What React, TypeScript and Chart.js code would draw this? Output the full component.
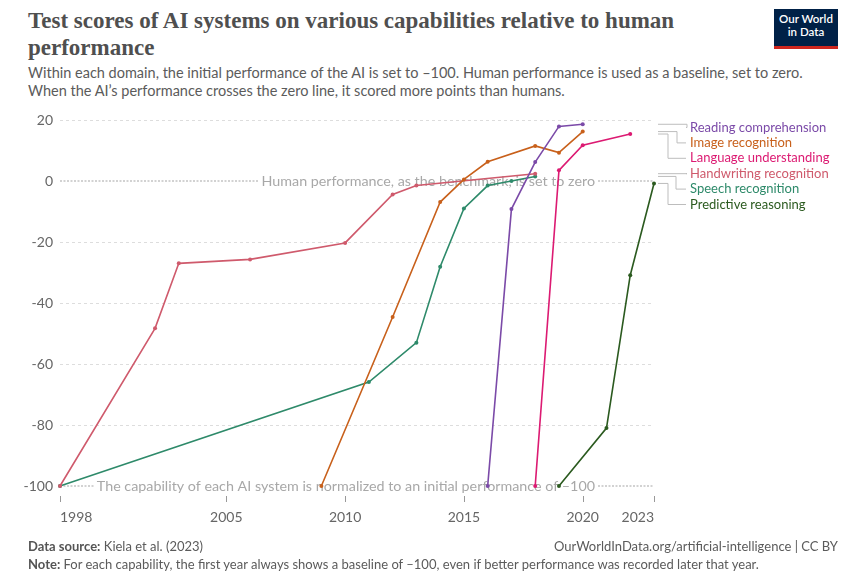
import React, { useEffect, useRef } from 'react';
import Chart from 'chart.js/auto';

// years + normalized scores per capability
const readingYears = [2016, 2017, 2018, 2019, 2020];
const readingScores = [-100, -9.2, 6.2, 17.9, 18.6];

const imageYears = [2009, 2012, 2014, 2015, 2016, 2018, 2019, 2020];
const imageScores = [-100, -44.6, -6.9, 0.5, 6.3, 11.5, 9.3, 16.2];

const languageYears = [2018, 2019, 2020, 2022];
const languageScores = [-100, 3.5, 11.7, 15.4];

const handwritingYears = [1998, 2002, 2003, 2006, 2010, 2012, 2013, 2018];
const handwritingScores = [-100, -48.3, -27.0, -25.7, -20.3, -4.4, -1.5, 2.4];

const speechYears = [1998, 2011, 2013, 2014, 2015, 2016, 2017, 2018];
const speechScores = [-100, -65.9, -53, -28.1, -9.0, -1.5, 0, 1.5];

const predictiveYears = [2019, 2021, 2022, 2023];
const predictiveScores = [-100, -81, -30.9, -0.8];

const seriesNames = [
  'Reading comprehension',
  'Image recognition',
  'Language understanding',
  'Handwriting recognition',
  'Speech recognition',
  'Predictive reasoning',
];
const seriesColors = ['#7b4aa8', '#c8601b', '#dc1a72', '#cf5a6c', '#2e8a6a', '#2b5a1f'];

const xTicks = [1998, 2005, 2010, 2015, 2020, 2023];

const zeroNote = 'Human performance, as the benchmark, is set to zero';
const baseNote = 'The capability of each AI system is normalized to an initial performance of \u2013100';

const toPoints = (xs: number[], ys: number[]) => xs.map((x, i) => ({ x, y: ys[i] }));

// legend with elbow connectors on the right
const legendPlugin = {
  id: 'owidLegend',
  afterDatasetsDraw(chart: any) {
    const { ctx, chartArea } = chart;
    const elbows = [29, 19, 10, 29, 18, 10];
    ctx.save();
    ctx.font = '13px Lato';
    ctx.textBaseline = 'middle';
    chart.data.datasets.forEach((ds: any, i: number) => {
      const meta = chart.getDatasetMeta(i);
      const last = meta.data[meta.data.length - 1];
      const x0 = chartArea.right + 4;
      const labelY = chartArea.top + 7.5 + i * 15.4;
      const ex = x0 + elbows[i];
      ctx.strokeStyle = '#bdbdbd';
      ctx.lineWidth = 1;
      ctx.beginPath();
      ctx.moveTo(x0, last.y);
      ctx.lineTo(ex, last.y);
      ctx.lineTo(ex, labelY);
      ctx.lineTo(chartArea.right + 32, labelY);
      ctx.stroke();
      ctx.fillStyle = ds.borderColor;
      ctx.fillText(ds.label, chartArea.right + 36, labelY);
    });
    ctx.restore();
  },
};

// notes on the 0 and -100 lines, plus x tick marks
const notesPlugin = {
  id: 'owidNotes',
  beforeDatasetsDraw(chart: any) {
    const { ctx, chartArea, scales } = chart;
    ctx.save();
    ctx.font = '14.3px Lato';
    ctx.textBaseline = 'middle';
    const textRight = chartArea.right - 59;
    [
      { v: 0, t: zeroNote },
      { v: -100, t: baseNote },
    ].forEach(({ v, t }) => {
      const y = scales.y.getPixelForValue(v);
      const w = ctx.measureText(t).width;
      ctx.strokeStyle = '#c4c4c4';
      ctx.lineWidth = 1.5;
      ctx.setLineDash([2, 1.5]);
      ctx.beginPath();
      ctx.moveTo(chartArea.left, y);
      ctx.lineTo(textRight - w - 3, y);
      ctx.moveTo(textRight + 3, y);
      ctx.lineTo(chartArea.right, y);
      ctx.stroke();
      ctx.setLineDash([]);
      ctx.fillStyle = '#a8a8a8';
      ctx.textAlign = 'right';
      ctx.fillText(t, textRight, y + 0.5);
    });
    ctx.strokeStyle = '#999';
    ctx.lineWidth = 1;
    xTicks.forEach(v => {
      const x = Math.round(scales.x.getPixelForValue(v)) + 0.5;
      ctx.beginPath();
      ctx.moveTo(x, chartArea.bottom + 10);
      ctx.lineTo(x, chartArea.bottom + 16);
      ctx.stroke();
    });
    ctx.restore();
  },
};

const ScoresChart: React.FC = () => {
  const canvasRef = useRef<HTMLCanvasElement>(null);
  const chartRef = useRef<any>(null);

  useEffect(() => {
    if (chartRef.current) chartRef.current.destroy();
    Chart.defaults.font.family = "Lato, 'Noto Sans', sans-serif";

    const allPoints = [
      toPoints(readingYears, readingScores),
      toPoints(imageYears, imageScores),
      toPoints(languageYears, languageScores),
      toPoints(handwritingYears, handwritingScores),
      toPoints(speechYears, speechScores),
      toPoints(predictiveYears, predictiveScores),
    ];

    if (canvasRef.current) {
      chartRef.current = new Chart(canvasRef.current, {
        type: 'line',
        data: {
          datasets: allPoints.map((pts, i) => ({
            label: seriesNames[i],
            data: pts,
            borderColor: seriesColors[i],
            backgroundColor: seriesColors[i],
            borderWidth: 1.6,
            pointRadius: 2,
            pointHoverRadius: 2,
            pointBorderWidth: 0,
            tension: 0,
            clip: false as any,
          })),
        },
        options: {
          animation: false,
          responsive: false,
          layout: { padding: { top: 20, right: 213, left: 0, bottom: 0 } },
          plugins: { legend: { display: false }, tooltip: { enabled: false } },
          scales: {
            x: {
              type: 'linear',
              min: 1998,
              max: 2023,
              afterBuildTicks: (scale: any) => {
                scale.ticks = xTicks.map(v => ({ value: v }));
              },
              afterFit: (scale: any) => {
                scale.height = 54;
              },
              grid: { display: false, drawTicks: false },
              border: { display: false },
              ticks: {
                align: 'inner',
                padding: 23,
                color: '#666',
                font: { size: 14 },
                maxRotation: 0,
                autoSkip: false,
                callback: (v: any) => String(v),
              },
            },
            y: {
              min: -100,
              max: 20,
              afterFit: (scale: any) => {
                scale.width = 60;
              },
              grid: {
                drawTicks: false,
                color: (c: any) => (c.tick && (c.tick.value === 0 || c.tick.value === -100) ? 'rgba(0,0,0,0)' : '#dddddd'),
              },
              border: { display: false, dash: [3, 3] },
              ticks: { stepSize: 20, padding: 7, color: '#666', font: { size: 14 } },
            },
          },
        },
        plugins: [notesPlugin, legendPlugin],
      } as any);
    }

    return () => {
      if (chartRef.current) chartRef.current.destroy();
      chartRef.current = null;
    };
  }, []);

  return <canvas ref={canvasRef} width={867} height={440} style={{ position: 'absolute', left: 0, top: 100, width: 867, height: 440 }} />;
};

const App: React.FC = () => {
  return (
    <div style={{ position: 'absolute', left: 0, top: 0, width: 867, height: 579, background: '#fff', fontFamily: 'Lato, sans-serif', overflow: 'hidden' }}>
      <div style={{ position: 'absolute', left: 28, top: 7, width: 730, fontFamily: "'Liberation Serif', serif", fontWeight: 700, fontSize: 23, lineHeight: '27px', color: '#4f4f4f' }}>
        Test scores of AI systems on various capabilities relative to human performance
      </div>
      <div style={{ position: 'absolute', left: 28, top: 64, width: 800, fontSize: 14.5, lineHeight: '17.5px', color: '#5b5b5b' }}>
        Within each domain, the initial performance of the AI is set to –100. Human performance is used as a baseline, set to zero.
        <br />
        When the AI’s performance crosses the zero line, it scored more points than humans.
      </div>
      <div style={{ position: 'absolute', left: 774, top: 9, width: 64, height: 33, background: '#002147', borderBottom: '3px solid #ce261e', color: '#fff', fontSize: 11.5, fontWeight: 600, lineHeight: '12.5px', textAlign: 'center', paddingTop: 4, boxSizing: 'content-box' as any }}>
        Our World
        <br />
        in Data
      </div>
      <ScoresChart />
      <div style={{ position: 'absolute', left: 28, top: 538, fontSize: 13, lineHeight: '17px', color: '#5b5b5b' }}>
        <b style={{ color: '#555' }}>Data source:</b> Kiela et al. (2023)
      </div>
      <div style={{ position: 'absolute', right: 29, top: 538, fontSize: 13, lineHeight: '17px', color: '#5b5b5b' }}>
        OurWorldInData.org/artificial-intelligence | CC BY
      </div>
      <div style={{ position: 'absolute', left: 28, top: 556, fontSize: 13, lineHeight: '17px', color: '#5b5b5b' }}>
        <b style={{ color: '#555' }}>Note:</b> For each capability, the first year always shows a baseline of –100, even if better performance was recorded later that year.
      </div>
    </div>
  );
};

export default App;
